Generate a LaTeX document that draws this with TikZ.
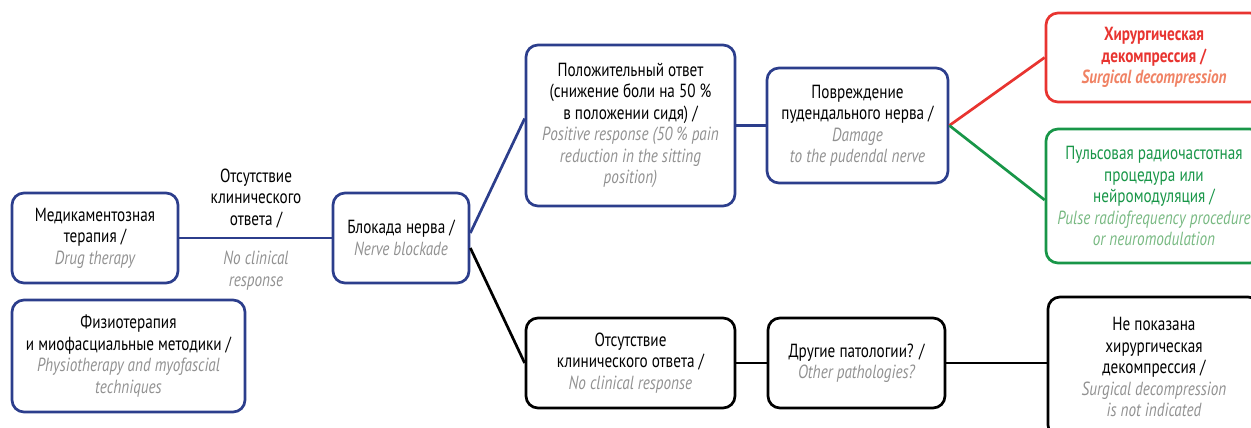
\documentclass[tikz,border=0pt]{standalone}
\usepackage{fontspec}
\setmainfont{PT Sans}[FakeStretch=0.8]
\usetikzlibrary{calc}
\definecolor{navy}{RGB}{44,62,140}
\definecolor{rd}{RGB}{232,52,48}
\definecolor{rdl}{RGB}{240,130,100}
\definecolor{gr}{RGB}{24,150,72}
\definecolor{grl}{RGB}{120,185,130}
\definecolor{gry}{RGB}{145,145,145}
\tikzset{
  box/.style={draw=navy, line width=2.7pt, rounded corners=12pt, align=center, inner sep=0pt, font=\fontsize{19}{21.5}\selectfont},
  lbl/.style={align=center, inner sep=0pt, font=\fontsize{19}{21.5}\selectfont},
  link/.style={line width=2.7pt, draw=navy},
}
\newcommand{\en}[1]{{\itshape\color{gry}#1}}
\begin{document}
\begin{tikzpicture}[x=1pt,y=-1pt]
\useasboundingbox (0,0) rectangle (1251,428);
\node[box, minimum width=166, minimum height=90] (drug) at (95,238)
  {Медикаментозная\\терапия /\\\en{Drug therapy}};
\node[box, minimum width=233, minimum height=112] (phys) at (128.5,356)
  {Физиотерапия\\и миофасциальные методики /\\\en{Physiotherapy and myofascial}\\\en{techniques}};
\node[box, minimum width=136, minimum height=90] (nerve) at (401,238)
  {Блокада нерва /\\\en{Nerve blockade}};
\node[box, minimum width=209, minimum height=161] (pos) at (630.5,125.5)
  {Положительный ответ\\(снижение боли на 50 \%\\в положении сидя) /\\\en{Positive response (50 \% pain}\\\en{reduction in the sitting}\\\en{position)}};
\node[box, minimum width=181, minimum height=115] (dmg) at (857.5,125.5)
  {Повреждение\\пудендального нерва /\\\en{Damage}\\\en{to the pudendal nerve}};
\node[box, draw=rd, minimum width=216, minimum height=89] (surg) at (1154,57.5)
  {\textbf{\color{rd}Хирургическая}\\\textbf{\color{rd}декомпрессия /}\\\textbf{\itshape\color{rdl}Surgical decompression}};
\node[box, draw=gr, minimum width=216, minimum height=134] (prf) at (1154,196)
  {\color{gr}Пульсовая радиочастотная\\\color{gr}процедура или\\\color{gr}нейромодуляция /\\\itshape\color{grl}Pulse radiofrequency procedure\\\itshape\color{grl}or neuromodulation};
\node[box, draw=black, minimum width=209, minimum height=90] (noresp) at (630.5,363)
  {Отсутствие\\клинического ответа /\\\en{No clinical response}};
\node[box, draw=black, minimum width=177, minimum height=90] (other) at (856.5,363)
  {Другие патологии? /\\\en{Other pathologies?}};
\node[box, draw=black, minimum width=212, minimum height=140] (noind) at (1154,367)
  {Не показана\\хирургическая\\декомпрессия /\\\en{Surgical decompression}\\\en{is not indicated}};
\node[lbl, anchor=south] (lab1) at (256,228) {Отсутствие\\клинического\\ответа /};
\node[lbl, anchor=north] (lab2) at (256,251) {\en{No clinical}\\\en{response}};
\draw[link] (drug.east) -- (drug.east -| nerve.west);
\draw[link] ($(nerve.east)+(0,-5)$) -- ($(pos.west)+(0,-7)$);
\draw[link, draw=black] ($(nerve.east)+(0,10)$) -- (noresp.west);
\draw[link] (pos.east) -- (pos.east -| dmg.west);
\draw[link, draw=rd] (dmg.east) -- (surg.west);
\draw[link, draw=gr] (dmg.east) -- ($(prf.west)+(0,4)$);
\draw[link, draw=black] (noresp.east) -- (noresp.east -| other.west);
\draw[link, draw=black] (other.east) -- (other.east -| noind.west);
\end{tikzpicture}
\end{document}
